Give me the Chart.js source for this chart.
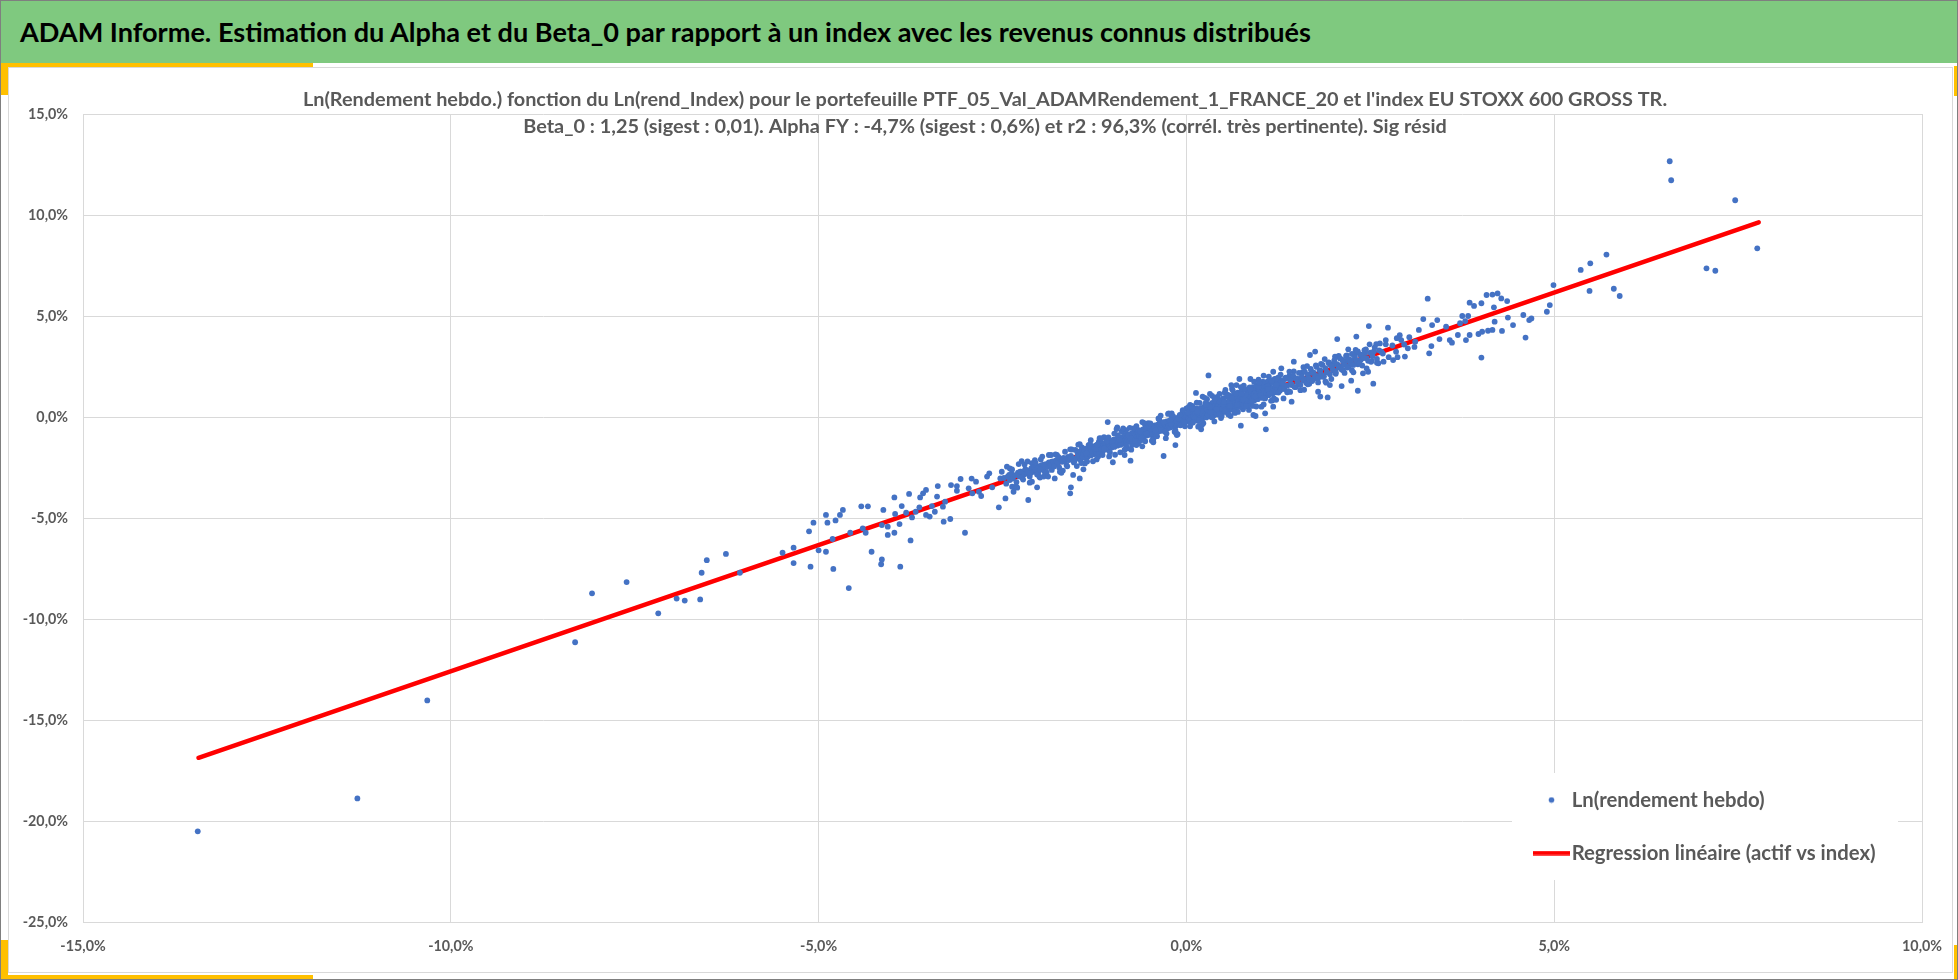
<!DOCTYPE html>
<html>
<head>
<meta charset="utf-8">
<script src="https://cdn.jsdelivr.net/npm/chart.js@4.4.1/dist/chart.umd.min.js"></script>
<style>
html,body{margin:0;padding:0;background:#fff;}
#page{position:relative;width:1958px;height:980px;overflow:hidden;background:#fff;}
#frame{position:absolute;left:0;top:0;width:1956px;height:978px;border:1px solid #7f7f7f;z-index:6;pointer-events:none;}
#bar{position:absolute;left:1px;top:1px;width:1956px;height:62px;background:#7fc97f;z-index:2;}
#barTitle{position:absolute;left:19px;top:0;height:62px;line-height:62px;white-space:nowrap;color:#000;font-weight:bold;}
.yb{position:absolute;background:#ffc000;z-index:4;}
#inner{position:absolute;left:8px;top:67px;width:1943px;height:904px;border:1px solid #d9d9d9;z-index:0;}
canvas{position:absolute;left:0;top:0;z-index:1;}
</style>
</head>
<body>
<div id="page">
  <div id="inner"></div>
  <canvas id="c" width="1958" height="980"></canvas>
  <div id="bar"><div id="barTitle"></div></div>
  <div class="yb" style="left:1px;top:63px;width:312px;height:4px"></div>
  <div class="yb" style="left:1px;top:63px;width:7px;height:32px"></div>
  <div class="yb" style="left:1px;top:975px;width:312px;height:4px"></div>
  <div class="yb" style="left:1px;top:940px;width:7px;height:39px"></div>
  <div class="yb" style="left:1954px;top:66px;width:3px;height:30px"></div>
  <div class="yb" style="left:1954px;top:945px;width:3px;height:34px"></div>
  <div id="frame"></div>
</div>
<script>
// ---------- texts ----------
const BAR_TITLE = "ADAM Informe. Estimation du Alpha et du Beta_0 par rapport à un index avec les revenus connus distribués";
const TITLE_LINES = [
  "Ln(Rendement hebdo.) fonction du Ln(rend_Index) pour le portefeuille PTF_05_Val_ADAMRendement_1_FRANCE_20 et l'index EU STOXX 600 GROSS TR.",
  "Beta_0 : 1,25 (sigest : 0,01). Alpha FY : -4,7% (sigest : 0,6%) et r2 : 96,3% (corrél. très pertinente). Sig résid"
];
const SERIES_LABELS = ["Ln(rendement hebdo)", "Regression linéaire (actif vs index)"];

// ---------- axes (in %) ----------
const X_MIN = -15, X_MAX = 10, X_STEP = 5;
const Y_MIN = -25, Y_MAX = 15, Y_STEP = 5;

// ---------- data: [Ln(rend_Index) %, Ln(rendement hebdo) %] ----------
const TAIL_LEFT = [
[-13.44,-20.51],[-11.27,-18.88],[-10.32,-14.03],[-8.31,-11.15],[-8.08,-8.73],[-7.61,-8.17],[-7.18,-9.72],
[-6.93,-8.99],[-6.82,-9.09],[-6.61,-9.03],[-6.59,-7.71],[-6.52,-7.09],[-6.26,-6.78],[-6.07,-7.71],
[-5.49,-6.72],[-5.34,-6.47],[-5.34,-7.23],[-5.13,-5.66],[-5.11,-7.41],[-5.07,-5.23],[-5.00,-6.60],
[-4.90,-4.85],[-4.88,-5.23],[-4.90,-6.67],[-4.81,-6.04],[-4.80,-7.52],[-4.77,-5.12],[-4.71,-4.85],
[-4.67,-4.60],[-4.59,-8.47],[-4.57,-5.73]
];
const LOWER_BAND = [
[-4.42,-4.42],[-4.33,-4.42],[-4.40,-5.51],[-4.36,-5.73],[-4.28,-6.67],[-4.15,-7.29],[-4.14,-7.05],[-4.14,-5.35],
[-4.12,-4.60],[-4.06,-5.43],[-4.06,-5.84],[-3.97,-3.98],[-3.97,-5.73],[-3.96,-4.80],[-3.90,-5.30],[-3.89,-7.41],
[-3.87,-4.41],[-3.81,-4.74],[-3.77,-3.81],[-3.75,-6.11],[-3.73,-4.97],[-3.68,-4.69],[-3.63,-4.47],[-3.62,-3.98],
[-3.58,-3.78],[-3.54,-3.61],[-3.54,-4.85],[-3.49,-4.93],[-3.46,-4.41],[-3.42,-4.69],[-3.39,-3.94],[-3.38,-3.42],
[-3.31,-4.44],[-3.30,-5.18],[-3.28,-4.19],[-3.21,-5.05],[-3.20,-3.37],[-3.12,-3.65],[-3.12,-3.42],[-3.07,-3.07],
[-3.01,-5.73],[-2.96,-3.53],[-2.92,-3.05],[-2.91,-3.78],[-2.86,-3.20],[-2.82,-3.70],[-2.79,-3.91],[-2.71,-2.95],
[-2.68,-2.79],[-2.64,-3.48],[-2.55,-4.47],[-2.53,-3.04],[-2.51,-2.71],[-2.46,-4.03],[-2.44,-2.46],[-2.41,-2.87],
[-2.37,-3.45],[-2.35,-3.70],[-2.32,-3.45],[-2.28,-2.33],[-2.24,-2.18],[-2.19,-2.62],[-2.15,-4.11],[-2.13,-3.25],
[-2.10,-2.29],[-2.06,-2.13],[-2.03,-3.48],[-2.01,-2.71],[-1.96,-1.96],[-1.94,-2.95],[-1.92,-2.46],[-1.87,-1.88],
[-1.83,-2.21],[-1.79,-3.04],[-1.76,-1.88],[-1.72,-2.71],[-1.69,-2.13],[-1.65,-1.72],[-1.60,-2.13],[-1.58,-3.78],
[-1.57,-3.48],[-1.54,-2.87],
[-2.48,-3.02],[-2.45,-3.30],[-2.43,-2.95],[-2.40,-3.12],[-2.38,-2.80],[-2.36,-3.05],[-2.33,-2.88],[-2.31,-3.22],
[-2.29,-2.76],[-2.27,-2.95],[-2.25,-2.70],[-2.23,-3.01],[-2.21,-2.85],[-2.19,-2.58],[-2.17,-2.80],[-2.15,-2.66],
[-2.13,-2.95],[-2.11,-2.55],[-2.09,-2.72],[-2.07,-2.48],[-2.05,-2.62],[-2.03,-2.85],[-2.01,-2.45],[-1.99,-2.60],
[-1.97,-2.38],[-1.95,-2.55],[-1.93,-2.70],[-1.91,-2.33],[-1.89,-2.48],[-1.87,-2.25],[-1.85,-2.40],[-1.83,-2.62],
[-1.81,-2.20],[-1.79,-2.35],[-1.77,-2.15],[-1.75,-2.28],[-1.73,-2.50],[-1.71,-2.08],[-1.69,-2.22],[-1.67,-2.02],
[-1.65,-2.18],[-1.63,-2.38],[-1.61,-1.98],[-1.59,-2.10],[-1.57,-1.92],[-1.55,-2.05],[-1.53,-2.25],
[-2.40,-2.55],[-2.30,-3.50],[-2.20,-2.35],[-2.10,-3.20],[-1.98,-2.10],[-1.88,-2.95],[-1.78,-1.85],[-1.68,-2.65],
[-1.58,-1.60],[-2.00,-2.95]
];
const CORE_BAND = [
[-1.51,-1.63],[-1.49,-2.43],[-1.45,-3.04],[-1.40,-2.59],[-1.42,-1.50],[-1.33,-1.39],[-1.24,-1.63],[-1.19,-1.22],
[-1.15,-1.47],[-1.07,-0.25],[-1.06,-1.47],[-1.00,-2.24],[-0.94,-0.51],[-0.92,-1.22],[-0.84,-1.88],[-0.83,-0.89],
[-0.76,-2.16],[-0.74,-1.39],[-0.70,-0.64],[-0.61,-1.14],[-0.56,-0.40],[-0.47,-0.89],[-0.38,-0.07],[-0.31,-1.93],
[-0.29,-0.56],[-0.20,0.18],[-0.15,-1.39],[-0.13,-0.89],[-0.06,-0.23],[0.00,0.43],[0.13,1.19],[0.10,-0.15],
[0.20,-0.61],[0.30,2.06],[0.22,1.01],[0.32,1.14],[0.45,1.14],[0.53,1.34],[0.61,1.58],[0.68,1.58],[0.72,1.88],
[0.74,-0.43],[0.77,0.38],[0.87,1.88],[0.91,0.10],[0.94,0.05],[1.02,0.51],[1.07,0.18],[1.08,-0.61],[1.18,0.51],
[1.18,2.24],[1.29,2.41],
[-1.49,-2.00],[-1.48,-1.78],[-1.47,-2.05],[-1.46,-1.90],[-1.45,-1.70],[-1.44,-2.12],[-1.43,-1.85],[-1.42,-1.62],
[-1.41,-1.98],[-1.40,-1.80],[-1.39,-1.58],[-1.38,-2.02],[-1.37,-1.72],[-1.36,-1.88],[-1.35,-1.55],[-1.34,-1.95],
[-1.33,-1.68],[-1.32,-1.82],[-1.31,-1.50],[-1.30,-1.90],[-1.29,-1.62],[-1.28,-1.75],[-1.27,-1.45],[-1.26,-1.85],
[-1.25,-1.58],[-1.24,-1.72],[-1.23,-1.40],[-1.22,-1.80],[-1.21,-1.52],[-1.20,-1.66],[-1.19,-1.38],[-1.18,-1.75],
[-1.17,-1.48],[-1.16,-1.60],[-1.15,-1.32],[-1.14,-1.70],[-1.13,-1.42],[-1.12,-1.55],[-1.11,-1.28],[-1.10,-1.62],
[-1.09,-1.38],[-1.08,-1.50],[-1.07,-1.22],[-1.06,-1.58],[-1.05,-1.32],[-1.04,-1.45],[-1.03,-1.18],[-1.02,-1.52],
[-1.01,-1.28],[-1.00,-1.40],[-0.99,-1.12],[-0.98,-1.48],[-0.97,-1.22],[-0.96,-1.35],[-0.95,-1.08],[-0.94,-1.42],
[-0.93,-1.18],[-0.92,-1.30],[-0.91,-1.02],[-0.90,-1.38],[-0.89,-1.12],[-0.88,-1.25],[-0.87,-0.98],[-0.86,-1.32],
[-0.85,-1.08],[-0.84,-1.20],[-0.83,-0.92],[-0.82,-1.28],[-0.81,-1.02],[-0.80,-1.15],[-0.79,-0.88],[-0.78,-1.22],
[-0.77,-0.98],[-0.76,-1.10],[-0.75,-0.82],[-0.74,-1.18],[-0.73,-0.92],[-0.72,-1.05],[-0.71,-0.78],[-0.70,-1.12],
[-0.69,-0.88],[-0.68,-1.00],[-0.67,-0.72],[-0.66,-1.08],[-0.65,-0.82],[-0.64,-0.95],[-0.63,-0.68],[-0.62,-1.02],
[-0.61,-0.78],[-0.60,-0.90],[-0.59,-0.62],[-0.58,-0.98],[-0.57,-0.72],[-0.56,-0.85],[-0.55,-0.58],[-0.54,-0.92],
[-0.53,-0.68],[-0.52,-0.80],[-0.51,-0.52],[-0.50,-0.88],[-0.49,-0.62],[-0.48,-0.75],[-0.47,-0.48],[-0.46,-0.82],
[-0.45,-0.58],[-0.44,-0.70],[-0.43,-0.42],[-0.42,-0.78],[-0.41,-0.52],[-0.40,-0.65],[-0.39,-0.38],[-0.38,-0.72],
[-0.37,-0.48],[-0.36,-0.60],[-0.35,-0.32],[-0.34,-0.68],[-0.33,-0.42],[-0.32,-0.55],[-0.31,-0.28],[-0.30,-0.62],
[-0.29,-0.38],[-0.28,-0.50],[-0.27,-0.22],[-0.26,-0.58],[-0.25,-0.32],[-0.24,-0.45],[-0.23,-0.18],[-0.22,-0.52],
[-0.21,-0.28],[-0.20,-0.40],[-0.19,-0.12],[-0.18,-0.48],[-0.17,-0.22],[-0.16,-0.35],[-0.15,-0.08],[-0.14,-0.42],
[-0.13,-0.18],[-0.12,-0.30],[-0.11,-0.02],[-0.10,-0.38],[-0.09,-0.12],[-0.08,-0.25],[-0.07,0.02],[-0.06,-0.32],
[-0.05,-0.08],[-0.04,-0.20],[-0.03,0.08],[-0.02,-0.28],[-0.01,-0.02],
[-1.45,-1.35],[-1.38,-2.30],[-1.30,-1.15],[-1.22,-2.10],[-1.12,-1.00],[-1.05,-1.95],[-0.98,-0.82],[-0.90,-1.75],
[-0.82,-0.65],[-0.75,-1.62],[-0.68,-0.45],[-0.60,-1.45],[-0.52,-0.30],[-0.45,-1.25],[-0.37,-0.12],[-0.28,-1.05],
[-0.20,0.05],[-0.12,-0.85],[-0.05,0.28],[-0.40,-0.95],[-0.88,-0.70],[-1.18,-1.05],[-0.65,-1.30],[-1.35,-2.20],
[-0.15,-0.65],
[0.00,0.05],[0.01,-0.22],[0.02,0.18],[0.03,-0.08],[0.04,0.30],[0.05,-0.15],[0.06,0.10],[0.07,-0.30],[0.08,0.22],
[0.09,0.02],[0.10,0.38],[0.11,-0.12],[0.12,0.15],[0.13,-0.02],[0.14,0.42],[0.15,0.08],[0.16,-0.20],[0.17,0.28],
[0.18,0.12],[0.19,-0.05],[0.20,0.45],[0.21,0.18],[0.22,-0.08],[0.23,0.32],[0.24,0.05],[0.25,0.55],[0.26,0.22],
[0.27,-0.02],[0.28,0.38],[0.29,0.12],[0.30,0.62],[0.31,0.28],[0.32,0.02],[0.33,0.45],[0.34,0.18],[0.35,0.70],
[0.36,0.35],[0.37,0.08],[0.38,0.52],[0.39,0.25],[0.40,0.78],[0.41,0.42],[0.42,0.12],[0.43,0.58],[0.44,0.30],
[0.45,0.85],[0.46,0.48],[0.47,0.18],[0.48,0.65],[0.49,0.38],[0.50,0.92],[0.51,0.55],[0.52,0.25],[0.53,0.72],
[0.54,0.42],[0.55,1.00],[0.56,0.62],[0.57,0.30],[0.58,0.80],[0.59,0.50],[0.60,1.05],[0.61,0.68],[0.62,0.38],
[0.63,0.88],[0.64,0.55],[0.65,1.12],[0.66,0.75],[0.67,0.45],[0.68,0.95],[0.69,0.62],[0.70,1.20],[0.71,0.82],
[0.72,0.50],[0.73,1.02],[0.74,0.70],[0.75,1.28],[0.76,0.88],[0.77,0.58],[0.78,1.08],[0.79,0.78],[0.80,1.35],
[0.81,0.95],[0.82,0.65],[0.83,1.15],[0.84,0.85],[0.85,1.42],[0.86,1.02],[0.87,0.72],[0.88,1.22],[0.89,0.92],
[0.90,1.48],[0.91,1.08],[0.92,0.80],[0.93,1.30],[0.94,0.98],[0.95,1.55],[0.96,1.15],[0.97,0.88],[0.98,1.38],
[0.99,1.05],[1.00,1.62],[1.01,1.22],[1.02,0.95],[1.03,1.45],[1.04,1.12],[1.05,1.68],[1.06,1.28],[1.07,1.02],
[1.08,1.52],[1.09,1.18],[1.10,1.75],[1.11,1.35],[1.12,1.08],[1.13,1.60],[1.14,1.25],[1.15,1.82],[1.16,1.42],
[1.17,1.15],[1.18,1.68],[1.19,1.32],[1.20,1.88],[1.21,1.48],[1.22,1.22],[1.23,1.75],[1.24,1.40],[1.25,1.95],
[1.26,1.55],[1.27,1.30],[1.28,1.82],[1.29,1.48],
[0.08,0.55],[0.16,-0.48],[0.28,0.88],[0.38,-0.22],[0.52,1.20],[0.60,0.05],[0.78,1.55],[0.85,0.35],[0.98,1.85],
[1.05,0.62],[1.12,2.00],[1.22,0.85],[0.42,1.00],[0.66,0.20],[0.92,1.75],[0.18,0.70],
[0.35,1.05],[0.62,1.40],[0.18,-0.45],[0.48,0.05],[0.90,0.55],[1.15,0.80],[0.05,0.60],[-0.25,0.15],[-0.60,-0.25],
[-0.95,-0.60],[-1.20,-1.95],[-0.45,-1.10],[-0.80,-1.55],[0.25,0.95],[0.70,0.25],[1.05,2.05]
];
const BAND_FILL = [
[-2.37,-2.60],[-2.31,-3.46],[-2.26,-2.70],[-2.22,-3.10],[-2.16,-2.20],[-2.12,-2.79],[-2.05,-2.28],[-1.99,-3.00],
[-1.94,-2.36],[-1.90,-2.74],[-1.84,-1.88],[-1.80,-2.45],[-1.74,-1.97],[-1.70,-2.76],[-1.66,-2.07],[-1.62,-2.44],
[-1.56,-1.61],[-1.52,-2.16],[-1.47,-1.37],[-1.43,-2.28],[-1.39,-1.64],[-1.36,-1.80],[-1.31,-1.34],[-1.27,-2.19],
[-1.23,-1.57],[-1.19,-1.83],[-1.16,-1.06],[-1.12,-1.57],[-1.08,-1.17],[-1.04,-1.75],[-1.01,-1.23],[-0.97,-1.87],
[-0.93,-0.90],[-0.89,-1.34],[-0.86,-0.56],[-0.82,-1.41],[-0.79,-0.90],[-0.75,-1.06],[-0.72,-0.57],[-0.68,-1.39],
[-0.65,-0.65],[-0.61,-1.05],[-0.58,-0.29],[-0.54,-0.83],[-0.51,-0.42],[-0.47,-1.17],[-0.44,-0.56],[-0.41,-0.91],
[-0.37,-0.09],[-0.34,-0.64],[-0.31,-0.25],[-0.27,-0.82],[-0.24,0.18],[-0.21,-0.33],[-0.18,0.03],[-0.14,-0.80],
[-0.11,-0.08],[-0.08,-0.41],[-0.05,0.34],[-0.02,-0.46],[0.02,0.22],[0.05,-0.46],[0.08,0.41],[0.11,-0.04],
[0.14,0.71],[0.17,-0.15],[0.20,0.29],[0.23,-0.31],[0.26,0.68],[0.29,0.11],[0.32,0.51],[0.35,-0.02],
[0.38,0.94],[0.41,0.38],[0.44,0.78],[0.47,-0.05],[0.50,0.63],[0.53,0.27],[0.56,1.11],[0.59,0.55],
[0.62,0.95],[0.65,0.26],[0.68,1.15],[0.71,0.61],[0.74,1.48],[0.77,0.87],[0.80,1.08],[0.83,0.54],
[0.86,1.46],[0.89,0.78],[0.92,1.17],[0.95,0.52],[0.98,1.50],[1.01,1.10],[1.04,1.75],[1.07,0.92],
[1.10,1.52],[1.13,1.17],[1.16,1.79],[1.19,0.92],[1.22,1.58],[1.25,1.21],[1.28,2.10],[1.31,1.53],
[1.34,1.88],[1.37,1.22],[1.40,2.04],[1.43,1.58],[1.46,2.26],[1.49,1.48],[1.52,1.88],[1.55,1.33],
[1.58,2.22],[1.61,1.87],[1.64,2.52],[1.67,1.64],[1.70,2.25],[1.73,1.89],[1.76,2.56],[1.79,1.71],
[1.82,2.31],[1.85,1.99],[1.88,2.87],[1.91,2.22],[1.94,2.69],[1.97,1.88],[2.00,2.59],[2.03,2.14],
[2.06,2.98],[2.09,2.51],[2.12,2.83],[2.15,2.18],[2.18,3.05],[2.21,2.53],[2.24,2.81],[2.27,2.21],
[2.30,3.32],[2.33,2.61],[2.36,3.10],[2.39,2.55],[2.42,3.31],[2.45,2.91],[2.49,3.60],[2.52,2.78],
[2.55,3.26],[2.59,2.68],[2.63,3.64],[2.67,3.14],[2.71,3.60],[2.75,2.96],[2.80,3.54],[2.85,3.23],
[2.90,4.05],[2.96,3.59],[3.03,3.95],[3.10,3.47],
[-1.21,-1.36],[-1.14,-1.88],[-1.06,-1.01],[-0.99,-1.43],[-0.91,-1.14],[-0.84,-1.62],[-0.77,-0.54],[-0.70,-1.19],
[-0.63,-0.72],[-0.56,-1.20],[-0.49,-0.32],[-0.42,-0.65],[-0.35,0.07],[-0.29,-0.73],[-0.22,-0.15],[-0.16,-0.73],
[-0.09,0.11],[-0.03,-0.25],[0.03,0.49],[0.09,-0.27],[0.15,0.27],[0.21,-0.39],[0.27,0.60],[0.33,0.24],
[0.39,0.88],[0.45,0.14],[0.51,0.75],[0.57,0.12],[0.63,1.32],[0.69,0.60],[0.75,1.14],[0.81,0.54],
[0.87,1.40],[0.93,1.02],[0.99,1.71],[1.05,0.95],[1.11,1.38],[1.17,0.83],[1.23,1.91],[1.29,1.39],
[1.35,1.92],[1.41,1.24],[1.47,1.94],[1.53,1.62],[1.59,2.47],[1.65,1.62],[1.71,2.18],[1.77,2.03],
[1.83,2.63],[1.89,1.76],[1.95,2.61],[2.01,2.28],[2.07,3.02],[2.13,2.32],[2.19,2.80],[2.25,2.32],
[2.31,3.19],[2.37,2.84],[2.43,3.18],[2.51,2.73],[2.58,3.61],[2.65,3.24]
];
const UPPER_BAND = [
[1.32,0.92],[1.43,0.76],[1.46,2.74],[1.68,3.07],[1.75,3.24],[1.79,1.25],[1.82,1.01],[1.92,0.97],[1.95,1.58],
[2.02,2.99],[2.05,3.86],[2.11,1.53],[2.24,1.80],[2.31,3.98],[2.33,1.30],[2.40,2.16],[2.48,4.50],[2.47,2.24],
[2.54,1.65],[2.61,2.66],[2.68,2.74],[2.74,4.42],[2.71,3.81],[2.81,2.82],[2.87,2.96],[2.86,3.90],[2.92,3.81],
[2.97,2.99],[3.01,3.40],[3.11,3.73],[3.16,4.31],[3.22,4.85],[3.28,5.86],[3.30,3.15],[3.33,3.51],[3.34,4.55],
[3.41,4.80],[3.44,3.86],[3.53,4.47],[3.58,3.81],[3.61,3.68],[3.69,4.06],[3.72,4.64],[3.75,5.00],[3.79,4.75],
[3.80,3.81],[3.83,5.00],[3.85,5.66],[3.85,4.06],[3.91,5.50],[3.97,4.11],[4.01,2.94],[4.01,5.63],[4.02,4.22],
[4.08,6.04],[4.10,4.27],[4.16,6.06],[4.16,4.31],[4.18,5.43],[4.19,4.72],[4.23,6.12],[4.28,5.87],[4.29,4.26],
[4.36,5.74],[4.37,4.92],[4.44,4.55],[4.58,5.05],[4.61,3.93],[4.66,4.80],[4.69,4.88],[4.90,5.21],[4.94,5.54],
[4.99,6.53],
[1.31,1.70],[1.33,1.38],[1.35,1.95],[1.37,1.55],[1.39,1.28],[1.41,1.82],[1.43,1.62],[1.45,2.05],[1.47,1.48],
[1.49,1.90],[1.51,1.72],[1.53,2.18],[1.55,1.58],[1.57,2.00],[1.59,1.80],[1.61,2.25],[1.63,1.68],[1.65,2.10],
[1.67,1.90],[1.69,2.38],[1.71,1.78],[1.73,2.20],[1.75,2.00],[1.77,2.48],[1.79,1.92],[1.81,2.30],[1.83,2.12],
[1.85,2.58],[1.87,2.02],[1.89,2.42],[1.91,2.22],[1.93,2.70],[1.95,2.12],[1.97,2.52],[1.99,2.35],[2.01,2.80],
[2.03,2.22],[2.05,2.62],[2.07,2.45],[2.09,2.90],[2.11,2.35],[2.13,2.75],[2.15,2.58],[2.17,3.02],[2.19,2.45],
[2.21,2.85],[2.23,2.70],[2.25,3.12],[2.27,2.58],[2.29,2.98],[2.31,2.80],[2.33,3.25],[2.35,2.65],[2.38,3.08],
[2.41,2.92],[2.44,3.35],[2.47,2.78],[2.50,3.18],[2.53,3.02],[2.56,3.45],[2.59,2.88],[2.62,3.30],
[1.40,2.25],[1.60,1.35],[1.90,1.70],[2.20,3.35],[2.45,2.40]
];
const TAIL_RIGHT = [
[5.36,7.28],[5.49,7.61],[5.48,6.24],[5.81,6.35],[5.89,5.99],[5.71,8.04],
[6.57,12.66],[6.59,11.72],[7.46,10.73],[7.76,8.35],[7.07,7.36],[7.19,7.24]
];
// regression line end points
const REG_X = [-13.43, 7.78];
const REG_Y = [-16.87, 9.64];

// ---------- build ----------
const FONT = '"Liberation Sans Narrow", "Lato", sans-serif';
function fitSize(text, target) {
  const c = document.createElement('canvas').getContext('2d');
  c.font = 'bold 100px ' + FONT;
  return 100 * target / c.measureText(text).width;
}
const barSize = fitSize(BAR_TITLE, 1293);
const titleSize = fitSize(TITLE_LINES[0], 1365);
const tickSize = fitSize('15,0%', 40);
const legendSize = fitSize(SERIES_LABELS[1], 304);

const barEl = document.getElementById('barTitle');
barEl.textContent = BAR_TITLE;
barEl.style.fontFamily = FONT;
barEl.style.fontSize = barSize + 'px';

const scatterPts = [].concat(TAIL_LEFT, LOWER_BAND, CORE_BAND, BAND_FILL, UPPER_BAND, TAIL_RIGHT)
  .map(p => ({x: p[0], y: p[1]}));
const regPts = REG_X.map((x, i) => ({x: x, y: REG_Y[i]}));

const DOT_COLOR = '#4472C4', LINE_COLOR = '#FF0000';
function markerDot() {
  const c = document.createElement('canvas'); c.width = 7; c.height = 7;
  const g = c.getContext('2d'); g.fillStyle = DOT_COLOR;
  g.beginPath(); g.arc(3.5, 3.5, 2.8, 0, Math.PI * 2); g.fill(); return c;
}
function markerLine() {
  const c = document.createElement('canvas'); c.width = 37; c.height = 5;
  const g = c.getContext('2d'); g.fillStyle = LINE_COLOR; g.fillRect(0, 0.3, 37, 4.4); return c;
}
const MARKERS = [markerDot(), markerLine()];

const fmt = v => Number(v).toFixed(1).replace('.', ',') + '%';
const tickFont = {family: FONT, size: tickSize, weight: 'bold'};
const legPad = 53 - legendSize;

const placer = {
  id: 'placer',
  afterLayout(chart) {
    const t = chart.titleBlock;
    if (t) { t.left = 46; t.right = 1924; }
    const lg = chart.legend;
    lg.left = 1541.5 - legPad;
    lg.top = 800 - legendSize / 2 - legPad;
    lg.right = 1958;
    lg.bottom = lg.top + 400;
  },
  beforeDatasetsDraw(chart) {
    const g = chart.ctx;
    g.save(); g.fillStyle = '#ffffff'; g.fillRect(1512, 773, 386, 107); g.restore();
    chart.legend.draw();
  }
};

new Chart(document.getElementById('c'), {
  type: 'scatter',
  data: {
    datasets: [
      {label: SERIES_LABELS[0], data: scatterPts, backgroundColor: DOT_COLOR, borderWidth: 0,
       pointRadius: 2.9, pointHoverRadius: 2.9, pointStyle: 'circle', order: 0},
      {label: SERIES_LABELS[1], data: regPts, showLine: true, borderColor: LINE_COLOR, backgroundColor: LINE_COLOR,
       borderWidth: 4.5, borderCapStyle: 'round', pointRadius: 0, pointHoverRadius: 0, pointStyle: 'line', order: 1}
    ]
  },
  options: {
    responsive: false, animation: false, events: [],
    layout: {padding: {left: 0, right: 34, top: 70, bottom: 18}},
    plugins: {
      tooltip: {enabled: false},
      title: {
        display: true, text: TITLE_LINES, color: '#595959',
        font: {family: FONT, size: titleSize, weight: 'bold', lineHeight: 27 / titleSize},
        padding: {top: 16.5, bottom: -26.5}
      },
      legend: {
        display: true, position: 'chartArea', align: 'start',
        labels: {
          usePointStyle: true, pointStyleWidth: 20, padding: legPad, color: '#595959', textAlign: 'left',
          font: {family: FONT, size: legendSize, weight: 'bold'},
          generateLabels(chart) {
            const items = Chart.defaults.plugins.legend.labels.generateLabels(chart);
            items.forEach(it => { it.pointStyle = MARKERS[it.datasetIndex]; });
            return items;
          }
        }
      }
    },
    scales: {
      x: {
        type: 'linear', min: X_MIN, max: X_MAX,
        ticks: {stepSize: X_STEP, padding: 16, color: '#595959', font: tickFont, callback: fmt, maxRotation: 0, autoSkip: false},
        grid: {color: '#d9d9d9', lineWidth: 1, drawTicks: false},
        border: {color: '#d9d9d9'},
        afterFit(s) { s.height = 40; }
      },
      y: {
        type: 'linear', min: Y_MIN, max: Y_MAX,
        ticks: {stepSize: Y_STEP, padding: 15, color: '#595959', font: tickFont, callback: fmt, autoSkip: false},
        grid: {color: '#d9d9d9', lineWidth: 1, drawTicks: false},
        border: {color: '#d9d9d9'},
        afterFit(s) { s.width = 83; }
      }
    }
  },
  plugins: [placer]
});
</script>
</body>
</html>
